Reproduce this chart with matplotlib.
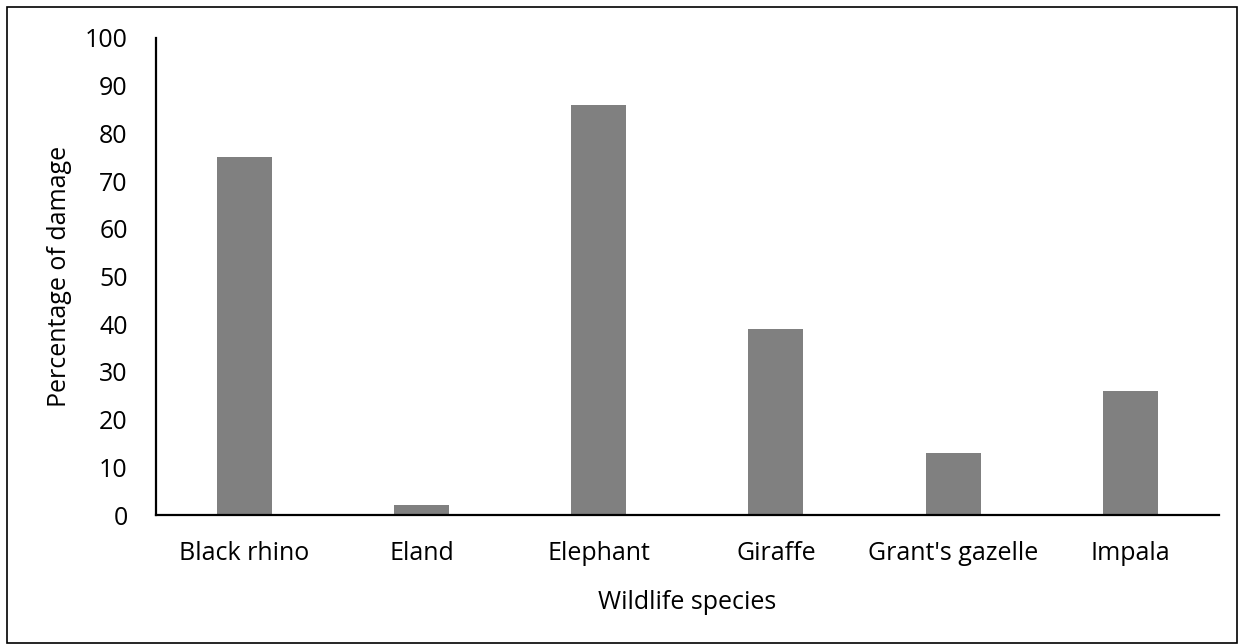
import matplotlib.pyplot as plt
from matplotlib.patches import Rectangle

plt.rcParams['font.family'] = ['Open Sans', 'DejaVu Sans']

# data
species = ['Black rhino', 'Eland', 'Elephant', 'Giraffe', "Grant's gazelle", 'Impala']
damage = [75, 2, 86, 39, 13, 26]
y_ticks = list(range(0, 101, 10))

fig = plt.figure(figsize=(12.44, 6.44), dpi=100)
ax = fig.add_axes([0.125, 0.2003, 0.855, 0.7407])

ax.bar(range(len(species)), damage, width=0.31, color='#808080')
ax.set_xlim(-0.5, len(species) - 0.5)
ax.set_ylim(0, 100)
ax.set_yticks(y_ticks)
ax.set_xticks(range(len(species)))
ax.set_xticklabels(species)

for side in ['top', 'right']:
    ax.spines[side].set_visible(False)
for side in ['left', 'bottom']:
    ax.spines[side].set_linewidth(1.6)
    ax.spines[side].set_color('black')

ax.tick_params(axis='both', length=0, labelsize=18)
ax.tick_params(axis='y', pad=20)
ax.tick_params(axis='x', pad=19)

ax.set_xlabel('Wildlife species', fontsize=18, labelpad=17)
ax.set_ylabel('Percentage of damage', fontsize=18, labelpad=9)

# outer border of the figure
fig.patches.append(Rectangle((0.006, 0.002), 0.988, 0.987, transform=fig.transFigure,
                             fill=False, edgecolor='black', linewidth=1.2))

fig.savefig('out.png', dpi=100)
